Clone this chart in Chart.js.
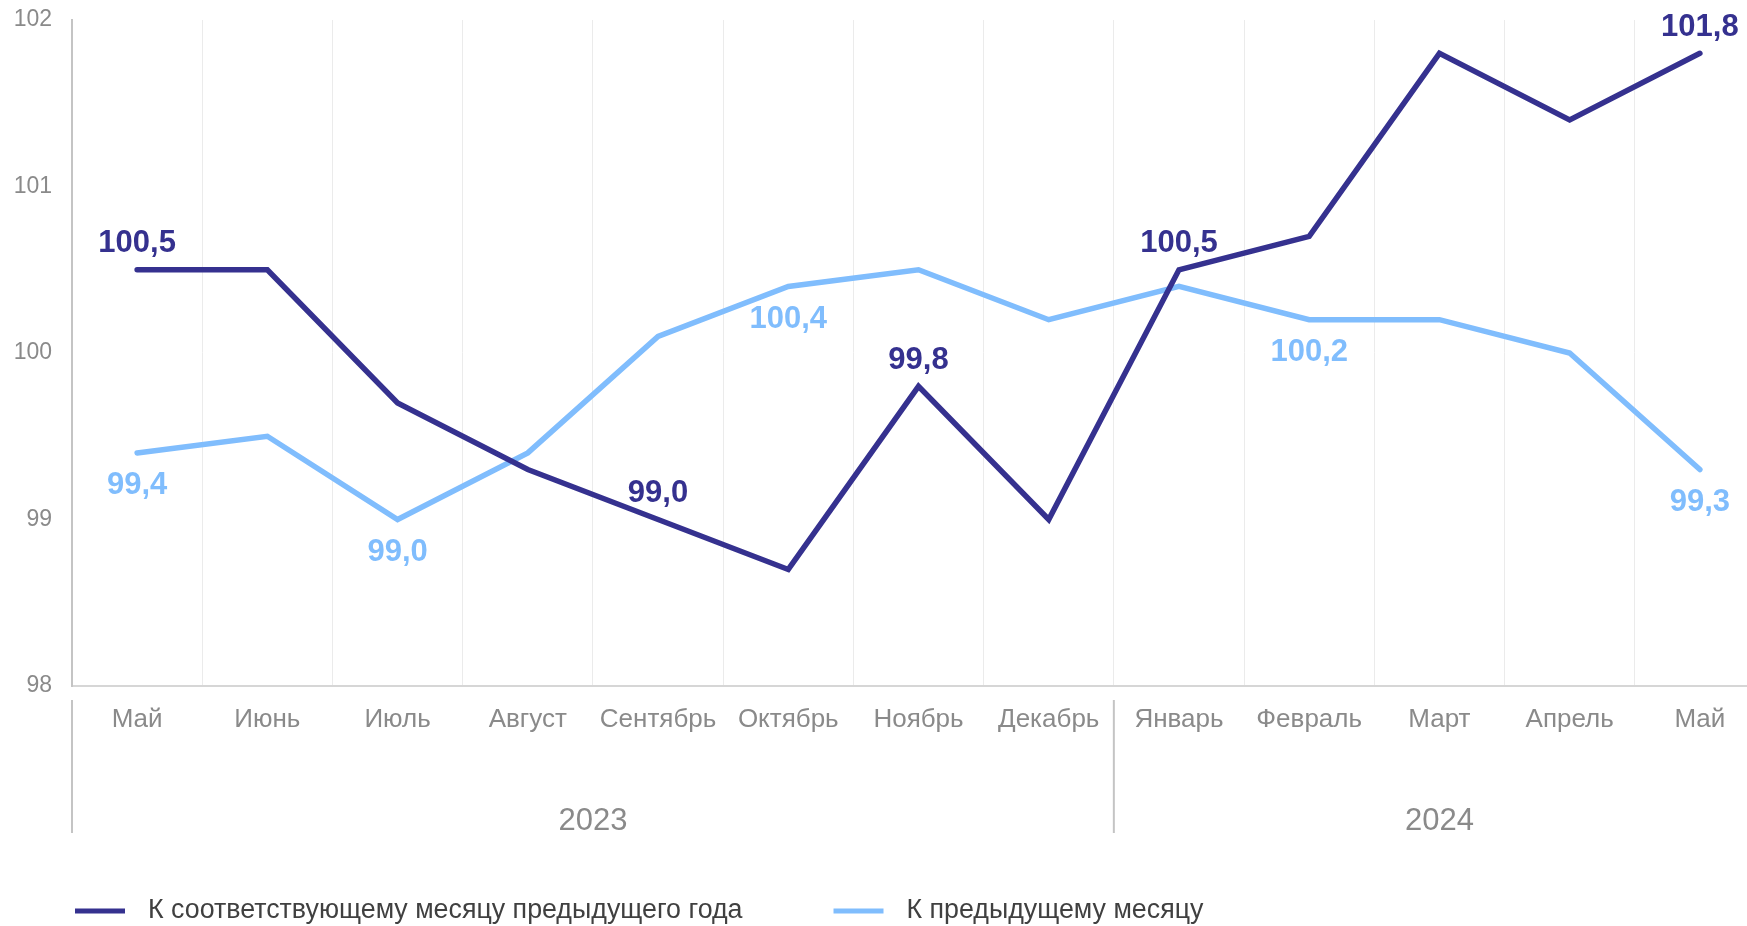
<!DOCTYPE html>
<html lang="ru">
<head>
<meta charset="utf-8">
<title>Индекс</title>
<script src="https://cdn.jsdelivr.net/npm/chart.js@4.4.1/dist/chart.umd.min.js"></script>
<style>
  html, body { margin: 0; padding: 0; background: #fff; overflow: hidden; }
  #wrap { width: 1780px; height: 926px; position: relative; }
</style>
</head>
<body>
<div id="wrap"><canvas id="chart"></canvas></div>
<script>
// --- DATA ---
const months = ['Май', 'Июнь', 'Июль', 'Август', 'Сентябрь', 'Октябрь', 'Ноябрь',
                'Декабрь', 'Январь', 'Февраль', 'Март', 'Апрель', 'Май'];
const yearNames = ['2023', '2024'];
const yearStart = [0, 8];        // first month index of each year
const yearEnd = [7, 12];         // last month index of each year

const yoyValues = [100.5, 100.5, 99.7, 99.3, 99.0, 98.7, 99.8, 99.0, 100.5, 100.7, 101.8, 101.4, 101.8];
const momValues = [99.4, 99.5, 99.0, 99.4, 100.1, 100.4, 100.5, 100.2, 100.4, 100.2, 100.2, 100.0, 99.3];

const yoyLabelled = [0, 4, 6, 8, 12];   // points with a value label above
const momLabelled = [0, 2, 5, 9, 12];   // points with a value label below

const yTicks = [98, 99, 100, 101, 102];

const seriesNames = ['К соответствующему месяцу предыдущего года', 'К предыдущему месяцу'];

// --- STYLE ---
const DARK = '#35318f';
const LIGHT = '#80bdfd';
const TICK_GREY = '#8a8a8a';
const FONT = '"Liberation Sans", Arial, sans-serif';

function fmt(v) {
    return v.toFixed(1).replace('.', ',');
}

// value labels next to chosen points
const pointLabels = {
    id: 'pointLabels',
    afterDatasetsDraw(chart) {
        const ctx = chart.ctx;
        ctx.save();
        ctx.font = 'bold 31px ' + FONT;
        ctx.textAlign = 'center';
        ctx.textBaseline = 'middle';
        chart.data.datasets.forEach((ds, di) => {
            const meta = chart.getDatasetMeta(di);
            ds.labelled.forEach(i => {
                const pt = meta.data[i];
                ctx.fillStyle = ds.borderColor;
                ctx.fillText(fmt(ds.data[i]), pt.x, pt.y + ds.labelShift);
            });
        });
        ctx.restore();
    }
};

// year groups, separators and legend under the axis
const bottomBlock = {
    id: 'bottomBlock',
    afterDraw(chart) {
        const ctx = chart.ctx;
        const xs = chart.scales.x;
        const step = xs.getPixelForValue(1) - xs.getPixelForValue(0);
        const top = chart.chartArea.bottom + 14;
        const bottom = chart.chartArea.bottom + 147;
        ctx.save();

        ctx.strokeStyle = '#c4c4c4';
        ctx.lineWidth = 2;
        ctx.font = '31px ' + FONT;
        ctx.fillStyle = TICK_GREY;
        ctx.textAlign = 'center';
        ctx.textBaseline = 'middle';
        yearNames.forEach((name, k) => {
            const left = xs.getPixelForValue(yearStart[k]) - step / 2;
            const right = xs.getPixelForValue(yearEnd[k]) + step / 2;
            ctx.beginPath();
            ctx.moveTo(left, top);
            ctx.lineTo(left, bottom);
            ctx.stroke();
            ctx.fillText(name, (left + right) / 2, chart.chartArea.bottom + 135);
        });

        // legend
        const ly = 911;
        let lx = 75;
        ctx.font = '26.8px ' + FONT;
        ctx.textAlign = 'left';
        chart.data.datasets.forEach(ds => {
            ctx.fillStyle = ds.borderColor;
            ctx.fillRect(lx, ly - 2.5, 50, 5);
            ctx.fillStyle = '#404040';
            ctx.fillText(ds.label, lx + 73, ly);
            lx += 73 + ctx.measureText(ds.label).width + 91;
        });
        ctx.restore();
    }
};

const ctx = document.getElementById('chart').getContext('2d');
new Chart(ctx, {
    type: 'line',
    data: {
        labels: months,
        datasets: [
            {
                label: seriesNames[0],
                data: yoyValues,
                borderColor: DARK,
                borderWidth: 5.5,
                borderCapStyle: 'round',
                pointRadius: 0,
                tension: 0,
                labelled: yoyLabelled,
                labelShift: -26
            },
            {
                label: seriesNames[1],
                data: momValues,
                borderColor: LIGHT,
                borderWidth: 5.5,
                borderCapStyle: 'round',
                pointRadius: 0,
                tension: 0,
                labelled: momLabelled,
                labelShift: 33
            }
        ]
    },
    options: {
        responsive: true,
        maintainAspectRatio: false,
        animation: false,
        layout: { padding: { top: 20, right: 15, left: 0, bottom: 0 } },
        plugins: {
            legend: { display: false },
            tooltip: { enabled: false }
        },
        scales: {
            x: {
                offset: true,
                grid: { display: true, offset: true, color: '#ebebeb', lineWidth: 1, drawTicks: false },
                border: { display: true, color: '#d6d6d6', width: 2 },
                ticks: {
                    autoSkip: false,
                    maxRotation: 0,
                    padding: 18,
                    color: TICK_GREY,
                    font: { family: FONT, size: 26 }
                },
                afterFit(scale) {
                    scale.height = 240;
                    scale.paddingLeft = 0;
                    scale.paddingRight = 0;
                }
            },
            y: {
                min: yTicks[0],
                max: yTicks[yTicks.length - 1],
                grid: { display: false, drawTicks: false },
                border: { display: true, color: '#c4c4c4', width: 2 },
                afterBuildTicks(scale) { scale.ticks = yTicks.map(v => ({ value: v })); },
                ticks: {
                    padding: 20,
                    color: TICK_GREY,
                    font: { family: FONT, size: 23 }
                },
                afterFit(scale) {
                    scale.width = 72;
                    scale.paddingTop = 0;
                    scale.paddingBottom = 0;
                }
            }
        }
    },
    plugins: [pointLabels, bottomBlock]
});
</script>
</body>
</html>
